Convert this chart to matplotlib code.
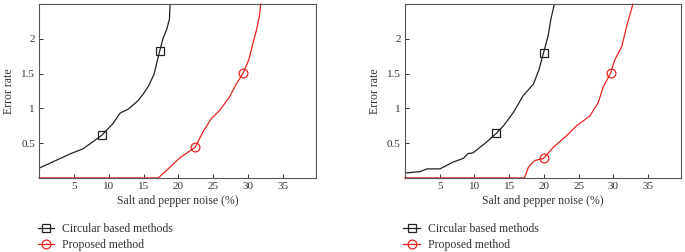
import matplotlib
matplotlib.use("Agg")
import matplotlib.pyplot as plt

plt.rcParams['font.family'] = ['Liberation Serif', 'DejaVu Serif']

# Left panel
l_circ_x = [0, 4.57, 6.34, 8.96, 10.6, 11.6, 12.8, 14.2, 14.9, 15.7, 16.5, 16.9, 17.3, 17.8, 18.3, 18.7, 18.8]
l_circ_y = [0.14, 0.35, 0.42, 0.61, 0.78, 0.93, 0.99, 1.11, 1.2, 1.32, 1.49, 1.66, 1.82, 2.01, 2.13, 2.28, 2.5]
l_circ_mk_x = [8.96, 17.3]
l_circ_mk_y = [0.61, 1.82]
l_prop_x = [0, 17.1, 18.3, 20.2, 22.4, 23.5, 24.7, 25.9, 27.3, 28.3, 29.3, 30.1, 30.7, 31.2, 31.6, 31.8]
l_prop_y = [0, 0, 0.11, 0.29, 0.44, 0.66, 0.85, 0.97, 1.16, 1.35, 1.51, 1.70, 1.94, 2.13, 2.32, 2.5]
l_prop_mk_x = [22.4, 29.3]
l_prop_mk_y = [0.44, 1.51]

# Right panel
r_circ_x = [0, 2.2, 3.2, 5.05, 7.0, 8.4, 9.1, 9.8, 10.8, 11.7, 13.15, 14.2, 15.6, 17.0, 18.5, 19.3, 19.95, 20.6, 21.0, 21.5]
r_circ_y = [0.07, 0.09, 0.13, 0.13, 0.23, 0.28, 0.35, 0.36, 0.44, 0.51, 0.64, 0.75, 0.94, 1.18, 1.35, 1.56, 1.80, 2.04, 2.28, 2.5]
r_circ_mk_x = [13.15, 19.95]
r_circ_mk_y = [0.64, 1.80]
r_prop_x = [0, 17.2, 17.8, 18.7, 19.95, 21.35, 23.3, 24.7, 26.6, 27.8, 28.5, 29.6, 30.2, 31.2, 31.9, 32.8]
r_prop_y = [0, 0, 0.16, 0.25, 0.28, 0.44, 0.61, 0.75, 0.89, 1.08, 1.30, 1.51, 1.70, 1.89, 2.18, 2.5]
r_prop_mk_x = [19.95, 29.6]
r_prop_mk_y = [0.28, 1.51]

x_ticks = [5, 10, 15, 20, 25, 30, 35]
y_ticks = [0.5, 1, 1.5, 2]
labels = ["Circular based methods", "Proposed method"]
xlabel = "Salt and pepper noise (%)"
ylabel = "Error rate"

fig = plt.figure(figsize=(6.85, 2.52), dpi=100)
ax1 = fig.add_axes([0.057, 0.294, 0.404, 0.690])
ax2 = fig.add_axes([0.591, 0.294, 0.403, 0.690])

black = '#222222'
red = '#e8241f'

panels = [
    (ax1, l_circ_x, l_circ_y, l_circ_mk_x, l_circ_mk_y, l_prop_x, l_prop_y, l_prop_mk_x, l_prop_mk_y),
    (ax2, r_circ_x, r_circ_y, r_circ_mk_x, r_circ_mk_y, r_prop_x, r_prop_y, r_prop_mk_x, r_prop_mk_y),
]
for ax, cx, cy, cmx, cmy, px, py, pmx, pmy in panels:
    ax.plot(cx, cy, color=black, lw=0.9)
    ax.plot(cmx, cmy, ls='none', marker='s', ms=5.2, mfc='none', mec=black, mew=0.9)
    ax.plot(px, py, color=red, lw=0.9, clip_on=False)
    ax.plot(pmx, pmy, ls='none', marker='o', ms=6.3, mfc='none', mec=red, mew=0.9)
    h1, = ax.plot([], [], color=black, lw=0.9, marker='s', ms=5.2, mfc='none', mec=black, mew=0.9)
    h2, = ax.plot([], [], color=red, lw=0.9, marker='o', ms=6.3, mfc='none', mec=red, mew=0.9)
    ax.set_xlim(0, 39.7)
    ax.set_ylim(0, 2.5)
    ax.set_xticks(x_ticks)
    ax.set_yticks(y_ticks)
    ax.set_yticklabels(['0.5', '1', '1.5', '2'])
    ax.tick_params(direction='in', length=3, width=0.7, labelsize=8, colors='#333333', pad=3)
    for s in ax.spines.values():
        s.set_color('#555555')
        s.set_linewidth(0.8)
    ax.set_xlabel(xlabel, fontsize=8.5, color='#333333', labelpad=3)
    ax.set_ylabel(ylabel, fontsize=8.5, color='#333333', labelpad=4)
    ax.legend([h1, h2], labels, loc='upper left', bbox_to_anchor=(-0.005, -0.26),
              frameon=False, fontsize=8.5, handlelength=1.4, handletextpad=0.7,
              labelspacing=0.35, borderaxespad=0, borderpad=0, labelcolor='#333333')

fig.savefig('out.png', dpi=100)
